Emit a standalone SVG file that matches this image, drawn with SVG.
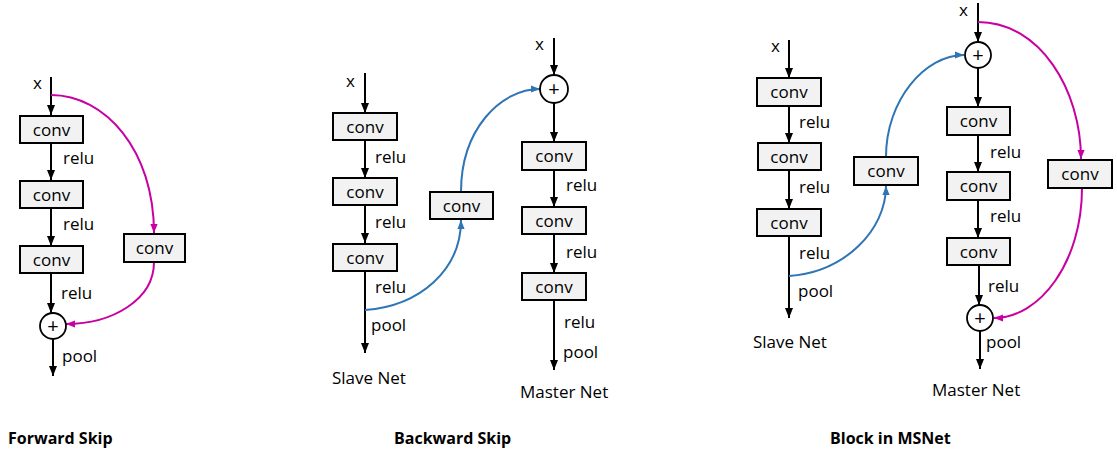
<svg xmlns="http://www.w3.org/2000/svg" width="1117" height="451" viewBox="0 0 1117 451">
<style>
text{font-family:"Open Sans","Noto Sans","Liberation Sans",sans-serif;fill:#000}
.lbl{font-size:17px}
.box text{font-size:17px;text-anchor:middle}
.box rect{fill:#f2f2f2;stroke:#000;stroke-width:2}
.sum circle{fill:#fff;stroke:#000;stroke-width:1.8}
.sum text{font-size:20px;text-anchor:middle}
.title{font-size:16px;font-weight:bold}
.k{stroke:#000;stroke-width:2;fill:none;marker-end:url(#ak)}
.m{stroke:#c800a1;stroke-width:2;fill:none;marker-end:url(#am)}
.b{stroke:#2e75b6;stroke-width:2;fill:none;marker-end:url(#ab)}
</style>
<defs>
<marker id="ak" markerUnits="userSpaceOnUse" markerWidth="10" markerHeight="10" viewBox="0 0 10 10" refX="10" refY="5" orient="auto"><path d="M0,1 L10,5 L0,9 Z" fill="#000"/></marker>
<marker id="am" markerUnits="userSpaceOnUse" markerWidth="9" markerHeight="9" viewBox="0 0 10 10" refX="10" refY="5" orient="auto"><path d="M0,1 L10,5 L0,9 Z" fill="#c800a1"/></marker>
<marker id="ab" markerUnits="userSpaceOnUse" markerWidth="9" markerHeight="9" viewBox="0 0 10 10" refX="10" refY="5" orient="auto"><path d="M0,1 L10,5 L0,9 Z" fill="#2e75b6"/></marker>
</defs>

<g id="connectors">
<path class="k" d="M51,77 V115"/>
<path class="k" d="M51,143 V180"/>
<path class="k" d="M51,208 V246"/>
<path class="k" d="M51,273 V313"/>
<path class="k" d="M53,339 V376"/>
<path class="m" d="M51,95 C105,95 154,150 154,233"/>
<path class="m" d="M154,262 C154,300 112,324 66,324"/>
<path class="k" d="M365,73 V113"/>
<path class="k" d="M365,140 V178"/>
<path class="k" d="M365,205 V243"/>
<path class="k" d="M365,271 V353"/>
<path class="k" d="M554,38 V75"/>
<path class="k" d="M554,103 V142"/>
<path class="k" d="M554,170 V207"/>
<path class="k" d="M554,234 V273"/>
<path class="k" d="M554,300 V370"/>
<path class="b" d="M365,310 C420,306 461,270 461,220"/>
<path class="b" d="M461,192 C461,130 500,89 540,89"/>
<path class="k" d="M789,40 V78"/>
<path class="k" d="M789,106 V143"/>
<path class="k" d="M789,170 V209"/>
<path class="k" d="M789,236 V318"/>
<path class="k" d="M978,3 V42"/>
<path class="k" d="M978,68 V107"/>
<path class="k" d="M978,135 V172"/>
<path class="k" d="M978,200 V238"/>
<path class="k" d="M979,265 V305"/>
<path class="k" d="M980,331 V369"/>
<path class="b" d="M789,276 C845,272 886,230 886,186"/>
<path class="b" d="M886,157 C886,100 925,55 964,55"/>
<path class="m" d="M978,22 C1040,22 1081,90 1081,159"/>
<path class="m" d="M1082,188 C1082,262 1040,318 994,318"/>
</g>

<g id="fs-conv1" class="box"><rect x="20" y="116" width="63" height="27"/><text x="51.5" y="135.5">conv</text></g>
<g id="fs-conv2" class="box"><rect x="20" y="181" width="63" height="27"/><text x="51.5" y="200.5">conv</text></g>
<g id="fs-conv3" class="box"><rect x="20" y="246" width="63" height="27"/><text x="51.5" y="265.5">conv</text></g>
<g id="fs-conv-skip" class="box"><rect x="124" y="234" width="61" height="28"/><text x="154.5" y="254">conv</text></g>
<g id="fs-sum" class="sum"><circle cx="53" cy="326" r="13"/><text x="53" y="333">+</text></g>

<g id="bs-s-conv1" class="box"><rect x="333" y="113" width="64" height="27"/><text x="365" y="132.5">conv</text></g>
<g id="bs-s-conv2" class="box"><rect x="333" y="178" width="64" height="27"/><text x="365" y="197.5">conv</text></g>
<g id="bs-s-conv3" class="box"><rect x="333" y="244" width="64" height="27"/><text x="365" y="263.5">conv</text></g>
<g id="bs-conv-skip" class="box"><rect x="430" y="192" width="63" height="27"/><text x="461.5" y="211.5">conv</text></g>
<g id="bs-sum" class="sum"><circle cx="554" cy="89" r="14"/><text x="554" y="96">+</text></g>
<g id="bs-m-conv1" class="box"><rect x="522" y="142" width="64" height="28"/><text x="554" y="162">conv</text></g>
<g id="bs-m-conv2" class="box"><rect x="522" y="207" width="64" height="27"/><text x="554" y="226.5">conv</text></g>
<g id="bs-m-conv3" class="box"><rect x="522" y="273" width="64" height="27"/><text x="554" y="292.5">conv</text></g>

<g id="ms-s-conv1" class="box"><rect x="757" y="78" width="64" height="28"/><text x="789" y="98">conv</text></g>
<g id="ms-s-conv2" class="box"><rect x="758" y="143" width="63" height="27"/><text x="789" y="162.5">conv</text></g>
<g id="ms-s-conv3" class="box"><rect x="757" y="209" width="64" height="27"/><text x="789" y="228.5">conv</text></g>
<g id="ms-conv-slave" class="box"><rect x="854" y="157" width="64" height="28"/><text x="886" y="177">conv</text></g>
<g id="ms-sum1" class="sum"><circle cx="978" cy="55" r="13"/><text x="978" y="62">+</text></g>
<g id="ms-m-conv1" class="box"><rect x="947" y="107" width="63" height="28"/><text x="978.5" y="127">conv</text></g>
<g id="ms-m-conv2" class="box"><rect x="947" y="172" width="63" height="28"/><text x="978.5" y="192">conv</text></g>
<g id="ms-m-conv3" class="box"><rect x="947" y="238" width="63" height="27"/><text x="978.5" y="257.5">conv</text></g>
<g id="ms-conv-skip" class="box"><rect x="1048" y="160" width="64" height="28"/><text x="1080" y="180">conv</text></g>
<g id="ms-sum2" class="sum"><circle cx="980" cy="318" r="13"/><text x="980" y="325">+</text></g>

<g id="labels" class="lbl">
<text x="33" y="89">x</text>
<text x="63" y="164">relu</text>
<text x="63" y="230">relu</text>
<text x="61" y="299">relu</text>
<text x="62" y="362">pool</text>
<text x="346" y="87">x</text>
<text x="375" y="163">relu</text>
<text x="375" y="228">relu</text>
<text x="375" y="293">relu</text>
<text x="371" y="331">pool</text>
<text x="332" y="384">Slave Net</text>
<text x="535" y="50">x</text>
<text x="566" y="191">relu</text>
<text x="566" y="258">relu</text>
<text x="564" y="328">relu</text>
<text x="563" y="358">pool</text>
<text x="520" y="398">Master Net</text>
<text x="771" y="52">x</text>
<text x="799" y="128">relu</text>
<text x="799" y="193">relu</text>
<text x="799" y="259">relu</text>
<text x="798" y="297">pool</text>
<text x="753" y="348">Slave Net</text>
<text x="959" y="16">x</text>
<text x="990" y="158">relu</text>
<text x="990" y="222">relu</text>
<text x="988" y="292">relu</text>
<text x="986" y="348">pool</text>
<text x="932" y="396">Master Net</text>
</g>

<g id="titles" class="title">
<text x="8" y="444">Forward Skip</text>
<text x="394" y="444">Backward Skip</text>
<text x="830" y="444">Block in MSNet</text>
</g>
</svg>
